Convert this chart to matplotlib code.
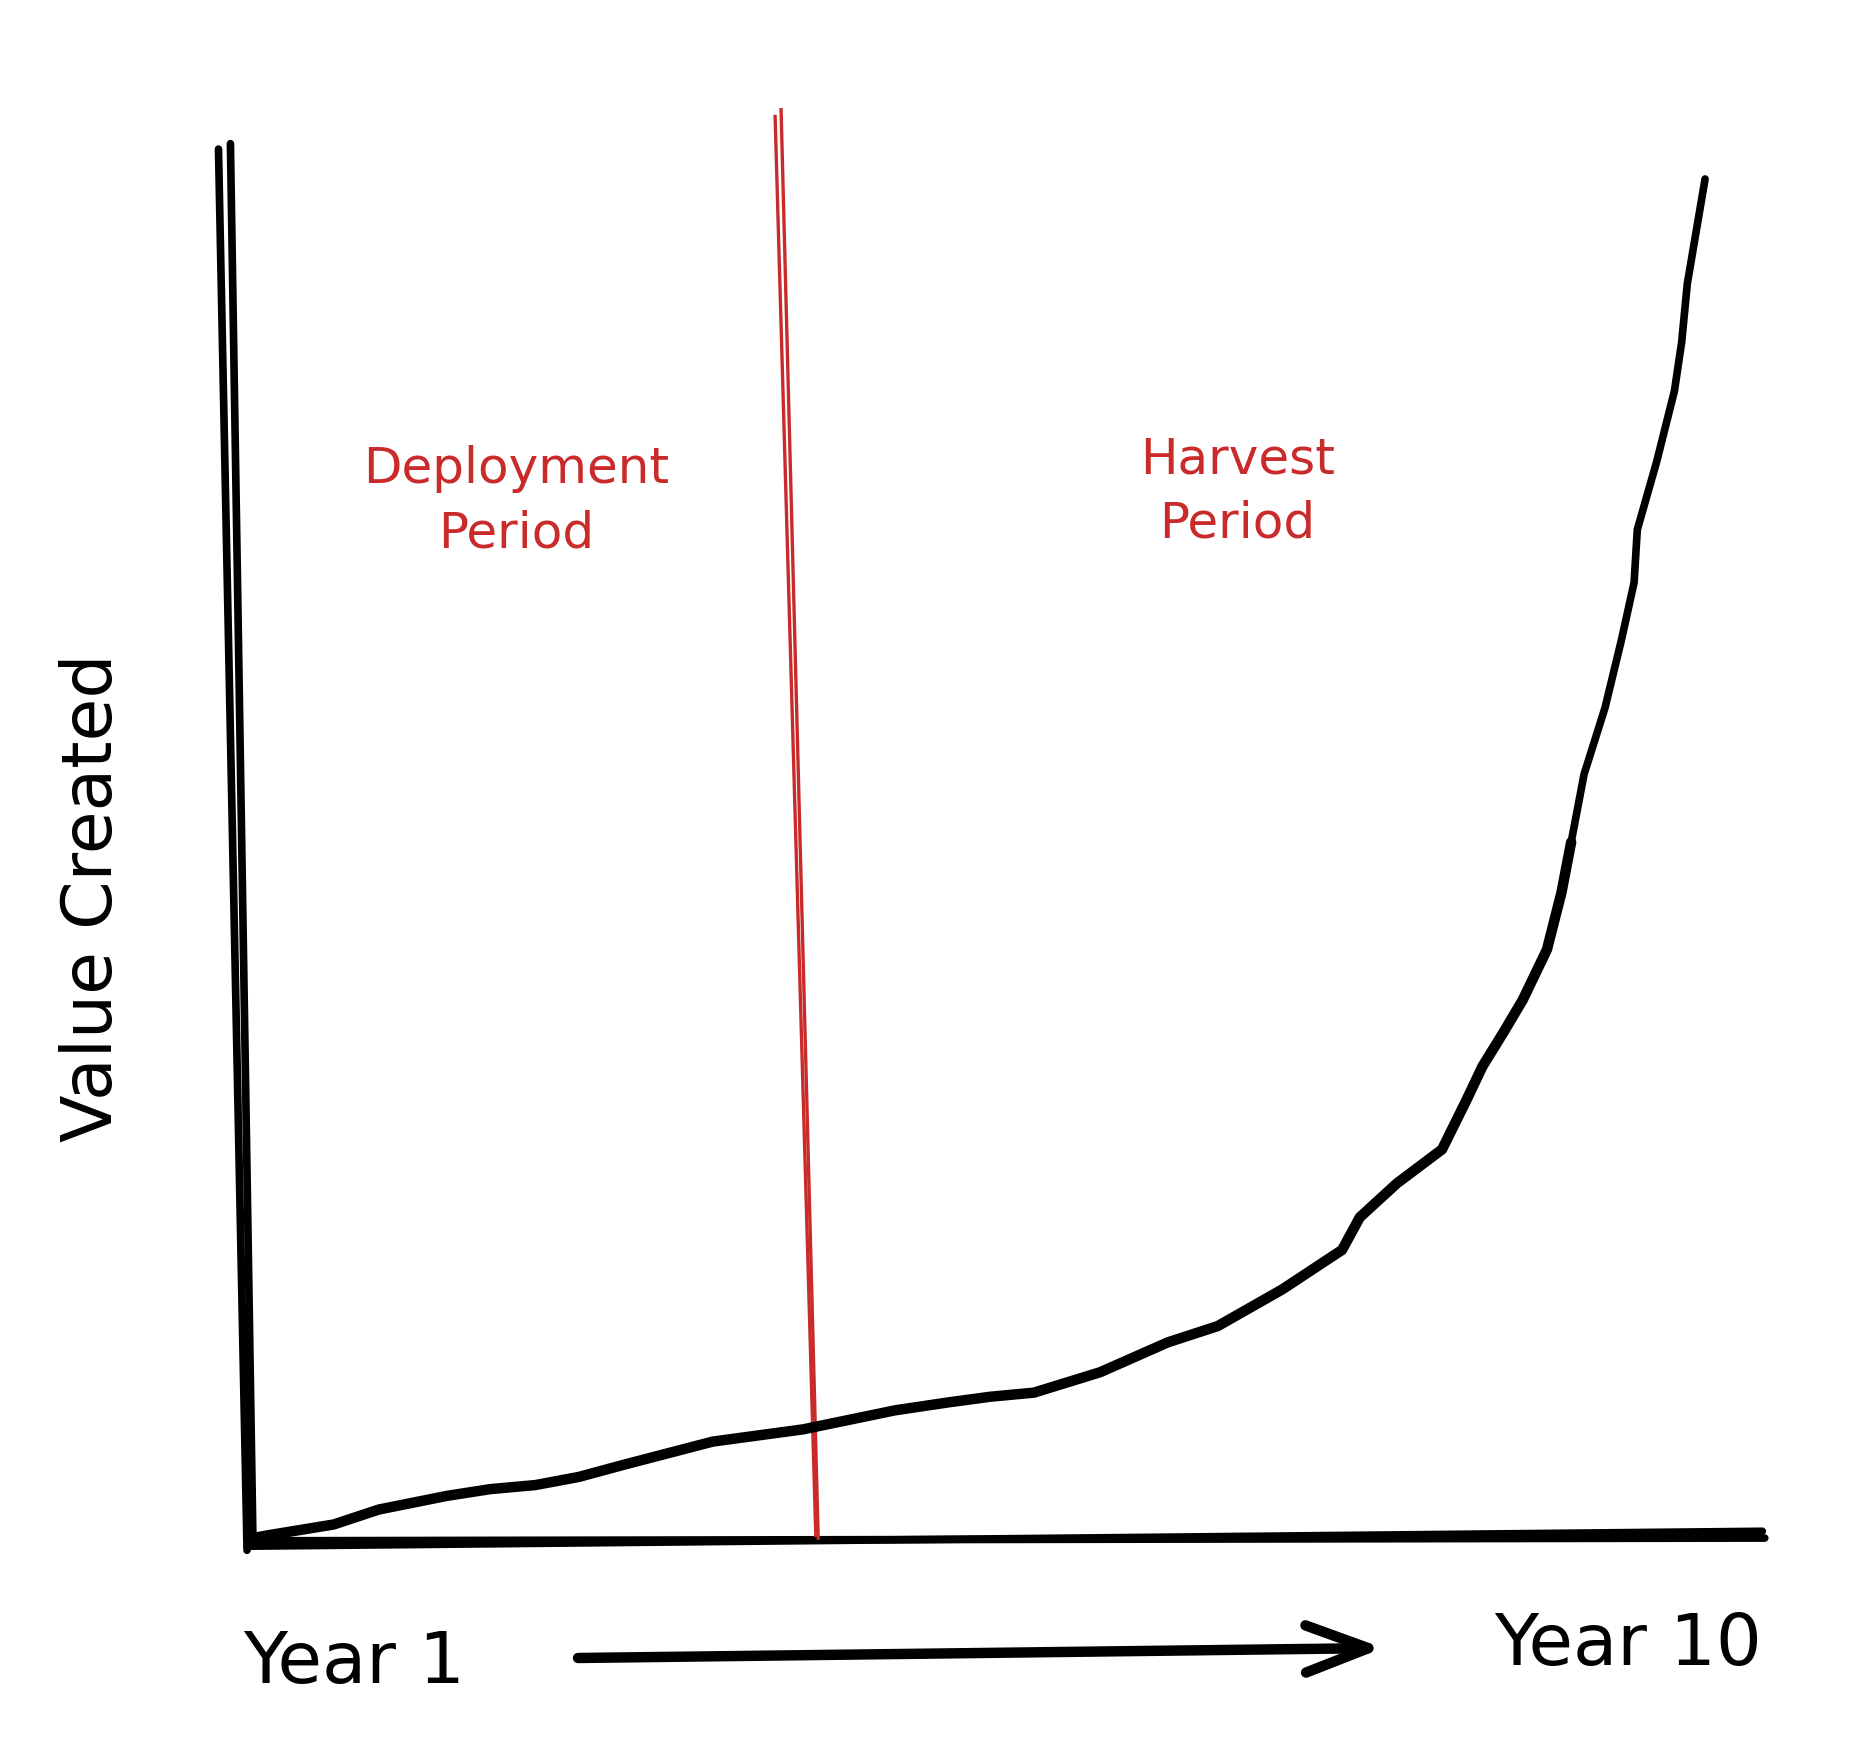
import numpy as np
import matplotlib
matplotlib.use('Agg')
import matplotlib.pyplot as plt
from matplotlib.patches import FancyArrowPatch

# value-created curve (year, relative value 0-100)
years = [1.00, 1.09, 1.50, 1.78, 2.20, 2.47, 2.75, 3.02, 3.30, 3.85, 4.41, 4.98,
         5.32, 5.57, 5.84, 6.25, 6.67, 6.98, 7.38, 7.75, 7.86, 8.09, 8.37, 8.52,
         8.62, 8.75, 8.87, 9.02, 9.11, 9.17, 9.25, 9.38, 9.48, 9.56, 9.58, 9.70,
         9.81, 9.855, 9.89, 9.95, 10.00]
values = [0.0, 0.2, 1.0, 2.1, 3.1, 3.6, 3.9, 4.5, 5.4, 7.1, 8.0, 9.4,
          10.0, 10.4, 10.7, 12.2, 14.4, 15.6, 18.3, 21.2, 23.6, 26.1, 28.6, 32.2,
          34.7, 37.2, 39.6, 43.3, 47.5, 51.2, 56.2, 61.1, 66.0, 70.3, 74.2, 79.2,
          84.4, 88.0, 92.3, 96.5, 100.0]

divider_year = 4.5
phase_labels = ['Deployment\nPeriod', 'Harvest\nPeriod']
phase_label_years = [2.63, 7.10]
phase_label_values = [76.3, 77.0]
y_label = 'Value Created'
x_start_label, x_end_label = 'Year 1', 'Year 10'

RED = '#c92a2a'
INK = '#000000'

fig = plt.figure(figsize=(18.70, 17.48), dpi=100)
ax = fig.add_axes([0.1353, 0.1201, 0.7765, 0.7775])
ax.set_xlim(1, 10)
ax.set_ylim(0, 100)
ax.axis('off')

# hand drawn axes: each one is two slightly offset strokes
ax.plot([0.786, 0.963], [102.2, -0.9], color=INK, lw=5.5, solid_capstyle='round', clip_on=False)
ax.plot([0.860, 1.000], [102.6, -0.4], color=INK, lw=5.5, solid_capstyle='round', clip_on=False)
ax.plot([0.963, 10.355], [-0.6, 0.5], color=INK, lw=5.5, solid_capstyle='round', clip_on=False)
ax.plot([0.985, 10.37], [-0.2, 0.0], color=INK, lw=5.5, solid_capstyle='round', clip_on=False)

# phase divider
ax.plot([divider_year - 0.264, divider_year - 0.012], [104.6, 0.2], color=RED, lw=2.4, clip_on=False)
ax.plot([divider_year - 0.227, divider_year + 0.003], [105.1, 0.0], color=RED, lw=2.4, clip_on=False)

# curve: heavier stroke at the bottom, thinner where it shoots up
yrs = np.array(years)
vals = np.array(values)
low = yrs <= 9.17
high = yrs >= 9.17
ax.plot(yrs[low], vals[low], color=INK, lw=7.5, solid_capstyle='round', solid_joinstyle='round', clip_on=False)
ax.plot(yrs[high], vals[high], color=INK, lw=5.5,
        solid_capstyle='round', solid_joinstyle='round', clip_on=False)

for lab, yr, v in zip(phase_labels, phase_label_years, phase_label_values):
    ax.text(yr, v, lab, color=RED, fontsize=36, ha='center', va='center',
            multialignment='center', linespacing=1.42, family='DejaVu Sans')

fig.text(93 / 1870, 1 - 898 / 1748, y_label, rotation=90, fontsize=50,
         ha='center', va='center', color=INK, family='DejaVu Sans')
fig.text(354 / 1870, 1 - 1664 / 1748, x_start_label, fontsize=52, ha='center', va='center',
         color=INK, family='DejaVu Sans')
fig.text(1628 / 1870, 1 - 1646 / 1748, x_end_label, fontsize=52, ha='center', va='center',
         color=INK, family='DejaVu Sans')

arrow = FancyArrowPatch((578 / 1870, 1 - 1658 / 1748), (1383 / 1870, 1 - 1648 / 1748),
                        transform=fig.transFigure, arrowstyle='->,head_length=4.5,head_width=1.7',
                        mutation_scale=10, lw=7.5, color=INK, capstyle='round', joinstyle='round',
                        shrinkA=0, shrinkB=0)
fig.add_artist(arrow)

fig.savefig('out.png', dpi=100, facecolor='white')
